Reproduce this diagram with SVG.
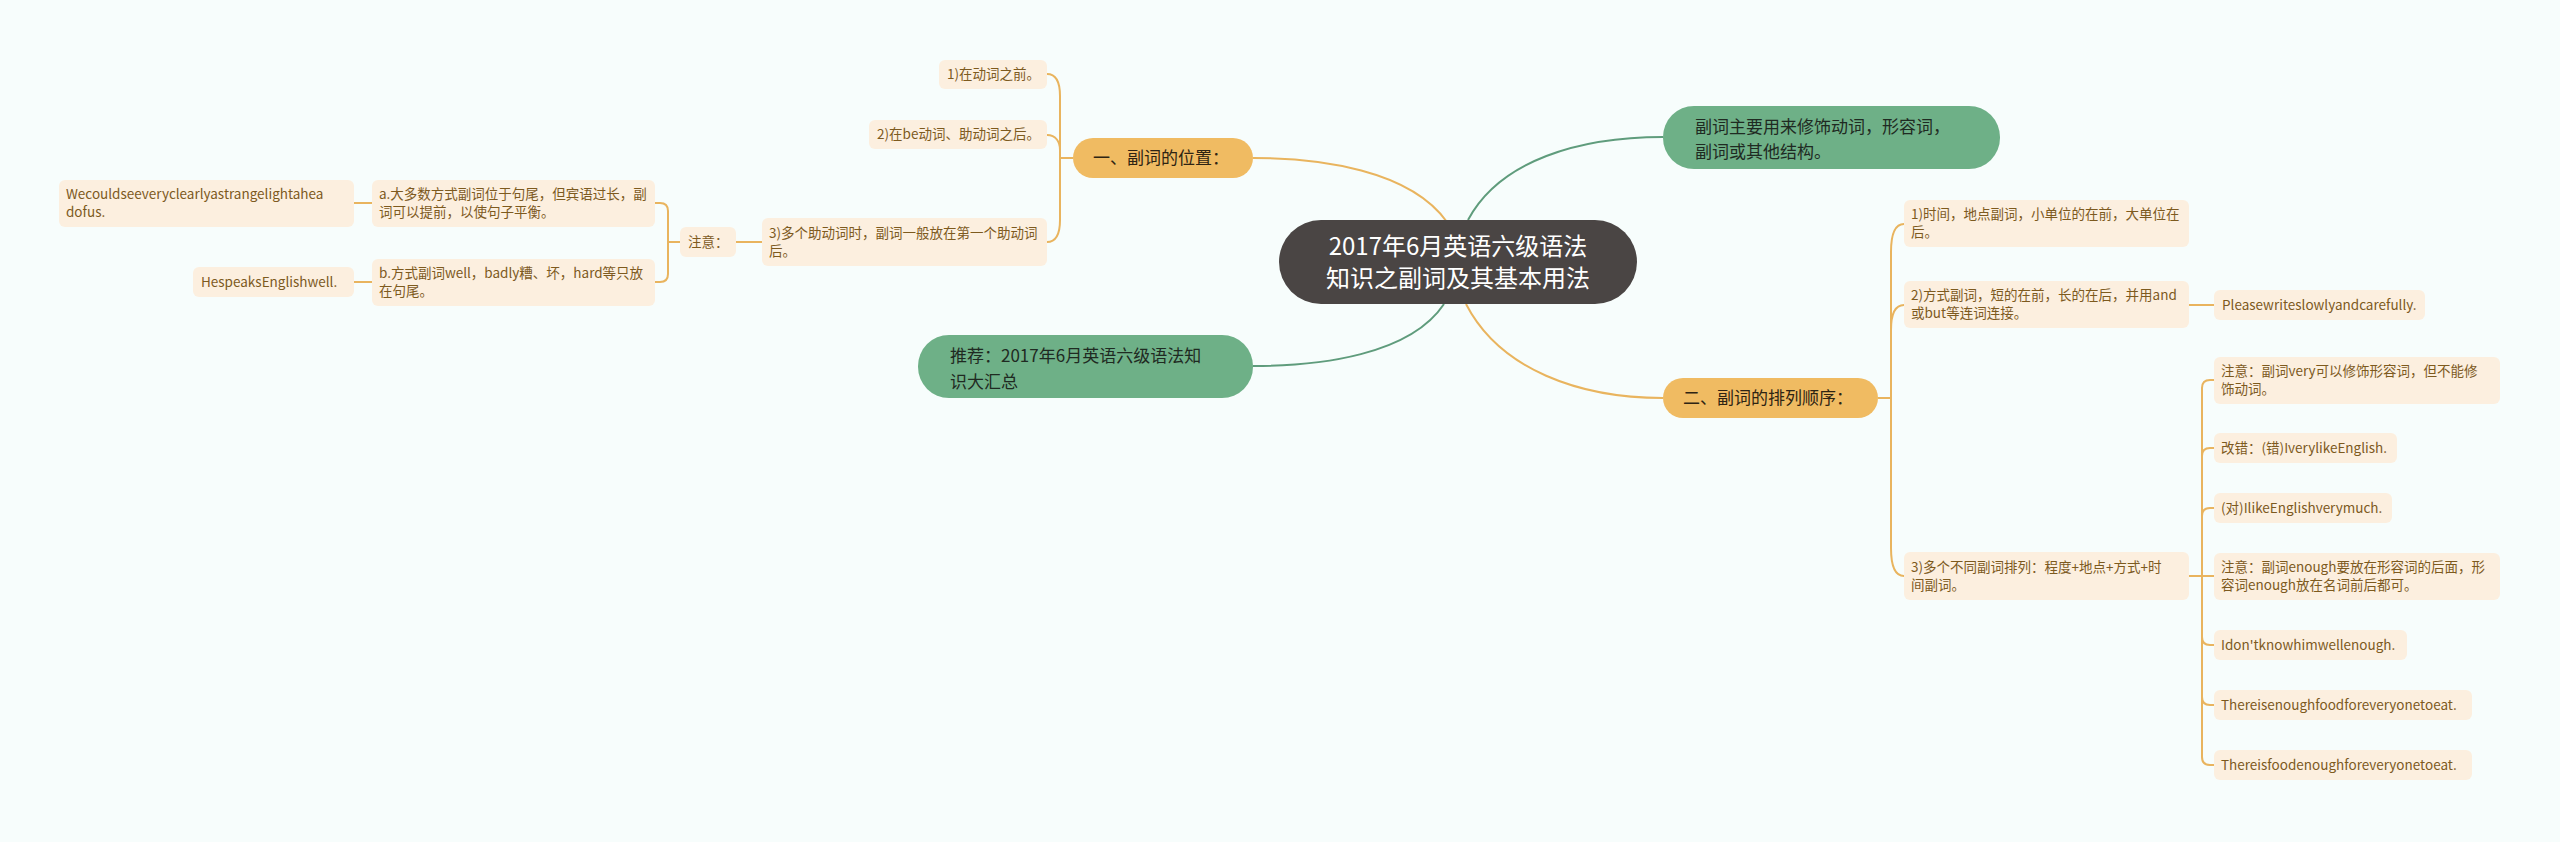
<svg xmlns="http://www.w3.org/2000/svg" width="2560" height="842" viewBox="0 0 2560 842">
<style>
text{font-family:"Noto Sans CJK SC","Noto Sans",sans-serif}
.bg{fill:#f7fdfc}
.root rect{fill:#4a4544}
.root text{fill:#ffffff;font-size:24px;text-anchor:middle}
.bo rect{fill:#f0bb62}
.bo text{fill:#2e2413;font-size:17px}
.bg2 rect{fill:#6eb087}
.bg2 text{fill:#1f2a22;font-size:17px}
.leaf rect{fill:#fcefdf}
.leaf text{fill:#7d5a1e;font-size:13.5px}
.co{fill:none;stroke:#e9b45e;stroke-width:2}
.cg{fill:none;stroke:#5f9c7c;stroke-width:2}
</style>
<rect class="bg" x="0" y="0" width="2560" height="842"/>
<g id="connectors">
<path class="co" d="M1447,222 C1410,170 1320,158 1253,158"/>
<path class="cg" d="M1444,304 C1410,355 1320,366 1253,366"/>
<path class="cg" d="M1468,220 C1500,160 1580,137 1663,137"/>
<path class="co" d="M1466,304 C1500,370 1580,398 1663,398"/>
<path class="co" d="M1073,158 H1060"/>
<path class="co" d="M1060,158 V96 C1060,82 1056,74 1047,74"/>
<path class="co" d="M1060,158 V150 C1060,142 1056,135 1047,135"/>
<path class="co" d="M1060,158 V220 C1060,234 1056,242 1047,242"/>
<path class="co" d="M762,242 H736"/>
<path class="co" d="M680,242 H668"/>
<path class="co" d="M668,242 V211 Q668,203 660,203 H655"/>
<path class="co" d="M668,242 V274 Q668,282 660,282 H655"/>
<path class="co" d="M372,203 H354"/>
<path class="co" d="M372,282 H354"/>
<path class="co" d="M1878,398 H1891"/>
<path class="co" d="M1891,398 V252 C1891,234 1895,224 1904,224"/>
<path class="co" d="M1891,398 V330 C1891,314 1895,305 1904,305"/>
<path class="co" d="M1891,398 V548 C1891,566 1895,576 1904,576"/>
<path class="co" d="M2189,305 H2214"/>
<path class="co" d="M2189,576 H2202"/>
<path class="co" d="M2202,576 V388 Q2202,380 2210,380 H2214"/>
<path class="co" d="M2202,576 V456 Q2202,448 2210,448 H2214"/>
<path class="co" d="M2202,576 V516 Q2202,508 2210,508 H2214"/>
<path class="co" d="M2202,576 H2214"/>
<path class="co" d="M2202,576 V637 Q2202,645 2210,645 H2214"/>
<path class="co" d="M2202,576 V697 Q2202,705 2210,705 H2214"/>
<path class="co" d="M2202,576 V757 Q2202,765 2210,765 H2214"/>
</g>
<g id="root" class="root">
<rect x="1279" y="220" width="358" height="84" rx="42"/>
<text x="1458" y="255">2017年6月英语六级语法</text>
<text x="1458" y="287">知识之副词及其基本用法</text>
</g>
<g id="b1" class="bo">
<rect x="1073" y="138" width="180" height="40" rx="20"/>
<text x="1093" y="164">一、副词的位置：</text>
</g>
<g id="b1c1" class="leaf">
<rect x="939" y="60" width="108" height="29" rx="6"/>
<text x="947" y="79">1)在动词之前。</text>
</g>
<g id="b1c2" class="leaf">
<rect x="869" y="120" width="178" height="29" rx="6"/>
<text x="877" y="139">2)在be动词、助动词之后。</text>
</g>
<g id="b1c3" class="leaf">
<rect x="762" y="218" width="285" height="48" rx="6"/>
<text x="769" y="238">3)多个助动词时，副词一般放在第一个助动词</text>
<text x="769" y="256">后。</text>
</g>
<g id="note1" class="leaf">
<rect x="680" y="227" width="56" height="30" rx="6"/>
<text x="688" y="247">注意：</text>
</g>
<g id="na" class="leaf">
<rect x="372" y="180" width="283" height="47" rx="6"/>
<text x="379" y="199">a.大多数方式副词位于句尾，但宾语过长，副</text>
<text x="379" y="217">词可以提前，以使句子平衡。</text>
</g>
<g id="nb" class="leaf">
<rect x="372" y="259" width="283" height="47" rx="6"/>
<text x="379" y="278">b.方式副词well，badly糟、坏，hard等只放</text>
<text x="379" y="296">在句尾。</text>
</g>
<g id="na1" class="leaf">
<rect x="59" y="180" width="295" height="47" rx="6"/>
<text x="66" y="199">Wecouldseeveryclearlyastrangelightahea</text>
<text x="66" y="217">dofus.</text>
</g>
<g id="nb1" class="leaf">
<rect x="193" y="267" width="161" height="30" rx="6"/>
<text x="201" y="287">HespeaksEnglishwell.</text>
</g>
<g id="b3" class="bg2">
<rect x="918" y="335" width="335" height="63" rx="31"/>
<text x="950" y="362">推荐：2017年6月英语六级语法知</text>
<text x="950" y="388">识大汇总</text>
</g>
<g id="b2" class="bg2">
<rect x="1663" y="106" width="337" height="63" rx="31"/>
<text x="1695" y="133">副词主要用来修饰动词，形容词，</text>
<text x="1695" y="158">副词或其他结构。</text>
</g>
<g id="b4" class="bo">
<rect x="1663" y="378" width="215" height="40" rx="20"/>
<text x="1683" y="404">二、副词的排列顺序：</text>
</g>
<g id="b4c1" class="leaf">
<rect x="1904" y="200" width="285" height="47" rx="6"/>
<text x="1911" y="219">1)时间，地点副词，小单位的在前，大单位在</text>
<text x="1911" y="237">后。</text>
</g>
<g id="b4c2" class="leaf">
<rect x="1904" y="281" width="285" height="47" rx="6"/>
<text x="1911" y="300">2)方式副词，短的在前，长的在后，并用and</text>
<text x="1911" y="318">或but等连词连接。</text>
</g>
<g id="please" class="leaf">
<rect x="2214" y="290" width="211" height="30" rx="6"/>
<text x="2222" y="310">Pleasewriteslowlyandcarefully.</text>
</g>
<g id="b4c3" class="leaf">
<rect x="1904" y="552" width="285" height="48" rx="6"/>
<text x="1911" y="572">3)多个不同副词排列：程度+地点+方式+时</text>
<text x="1911" y="590">间副词。</text>
</g>
<g id="r1" class="leaf">
<rect x="2214" y="357" width="286" height="47" rx="6"/>
<text x="2221" y="376">注意：副词very可以修饰形容词，但不能修</text>
<text x="2221" y="394">饰动词。</text>
</g>
<g id="r2" class="leaf">
<rect x="2214" y="433" width="183" height="30" rx="6"/>
<text x="2221" y="453">改错：(错)IverylikeEnglish.</text>
</g>
<g id="r3" class="leaf">
<rect x="2214" y="493" width="178" height="30" rx="6"/>
<text x="2221" y="513">(对)IlikeEnglishverymuch.</text>
</g>
<g id="r4" class="leaf">
<rect x="2214" y="553" width="286" height="47" rx="6"/>
<text x="2221" y="572">注意：副词enough要放在形容词的后面，形</text>
<text x="2221" y="590">容词enough放在名词前后都可。</text>
</g>
<g id="r5" class="leaf">
<rect x="2214" y="630" width="193" height="30" rx="6"/>
<text x="2221" y="650">Idon'tknowhimwellenough.</text>
</g>
<g id="r6" class="leaf">
<rect x="2214" y="690" width="258" height="30" rx="6"/>
<text x="2221" y="710">Thereisenoughfoodforeveryonetoeat.</text>
</g>
<g id="r7" class="leaf">
<rect x="2214" y="750" width="258" height="30" rx="6"/>
<text x="2221" y="770">Thereisfoodenoughforeveryonetoeat.</text>
</g>
</svg>
